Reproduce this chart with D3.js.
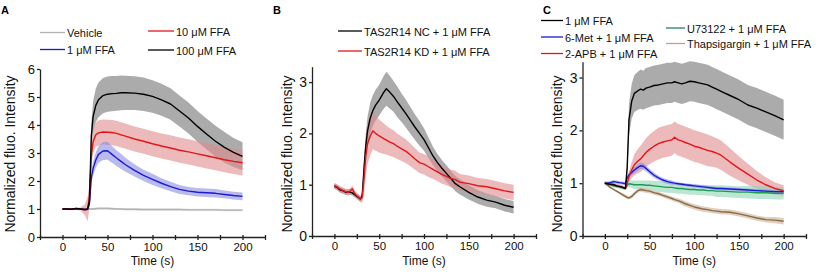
<!DOCTYPE html>
<html>
<head>
<meta charset="utf-8">
<script src="https://cdn.jsdelivr.net/npm/d3@7"></script>
<style>
  body { margin: 0; background: #fff; }
  svg { display: block; font-family: Arial, "Liberation Sans", sans-serif; }
</style>
</head>
<body>
<svg id="fig" width="824" height="276"></svg>
<script>
// ---------- data ----------
// panel A
var timeA = [0, 5, 10, 15, 20, 25, 28, 30, 32, 34, 37, 40, 45, 50, 55, 60, 65, 70, 80, 90, 100, 110, 120, 130, 140, 150, 160, 170, 180, 190, 200];
var ffa100A = [1.0, 1.0, 0.99, 1.02, 1.0, 0.98, 1.0, 1.3, 3.6, 4.3, 4.7, 4.9, 5.05, 5.1, 5.12, 5.13, 5.15, 5.15, 5.14, 5.1, 5.02, 4.9, 4.75, 4.5, 4.25, 3.95, 3.68, 3.42, 3.2, 3.02, 2.88];
var ffa100AErr = [0.03, 0.03, 0.03, 0.03, 0.03, 0.04, 0.05, 0.2, 0.45, 0.55, 0.6, 0.62, 0.63, 0.63, 0.63, 0.62, 0.62, 0.61, 0.6, 0.6, 0.58, 0.57, 0.56, 0.55, 0.55, 0.55, 0.55, 0.55, 0.55, 0.52, 0.5];
var ffa10A = [1.0, 1.0, 1.0, 1.0, 1.0, 0.97, 1.0, 1.5, 2.9, 3.4, 3.65, 3.72, 3.75, 3.74, 3.73, 3.7, 3.65, 3.6, 3.5, 3.42, 3.33, 3.25, 3.18, 3.1, 3.04, 2.97, 2.9, 2.83, 2.76, 2.7, 2.65];
var ffa10AErr = [0.03, 0.03, 0.03, 0.04, 0.05, 0.2, 0.45, 0.4, 0.38, 0.4, 0.43, 0.45, 0.45, 0.45, 0.45, 0.45, 0.45, 0.45, 0.45, 0.45, 0.45, 0.45, 0.45, 0.45, 0.45, 0.45, 0.45, 0.45, 0.45, 0.45, 0.45];
var ffa1A = [1.0, 1.0, 1.0, 1.0, 1.0, 0.98, 1.0, 1.2, 2.1, 2.45, 2.75, 2.95, 3.07, 3.08, 2.95, 2.82, 2.7, 2.58, 2.38, 2.2, 2.06, 1.92, 1.8, 1.7, 1.64, 1.6, 1.58, 1.56, 1.52, 1.48, 1.45];
var ffa1AErr = [0.02, 0.02, 0.02, 0.02, 0.02, 0.03, 0.05, 0.1, 0.2, 0.25, 0.28, 0.3, 0.32, 0.32, 0.3, 0.28, 0.27, 0.25, 0.22, 0.2, 0.2, 0.18, 0.17, 0.16, 0.15, 0.15, 0.15, 0.15, 0.14, 0.14, 0.14];
var vehicleA = [1.0, 1.0, 1.0, 1.0, 1.0, 0.99, 1.0, 1.0, 1.0, 1.0, 1.01, 1.02, 1.02, 1.02, 1.01, 1.0, 1.0, 0.99, 0.99, 0.98, 0.98, 0.98, 0.98, 0.98, 0.97, 0.97, 0.97, 0.97, 0.96, 0.96, 0.96];
var vehicleAErr = [0.03, 0.03, 0.03, 0.03, 0.03, 0.03, 0.03, 0.04, 0.04, 0.04, 0.04, 0.04, 0.04, 0.04, 0.04, 0.04, 0.04, 0.04, 0.04, 0.04, 0.04, 0.04, 0.04, 0.04, 0.04, 0.04, 0.04, 0.04, 0.04, 0.04, 0.04];

// panel B
var timeB = [0, 3, 6, 10, 13, 16, 20, 23, 26, 29, 31, 33, 35, 37, 40, 43, 46, 50, 55, 58, 62, 66, 70, 75, 80, 85, 90, 95, 100, 105, 110, 115, 120, 125, 130, 135, 140, 150, 160, 170, 180, 190, 200];
var ncB = [0.97, 0.95, 0.9, 0.88, 0.85, 0.86, 0.84, 0.8, 0.76, 0.72, 0.78, 1.3, 1.75, 2.05, 2.3, 2.45, 2.55, 2.65, 2.8, 2.87, 2.8, 2.72, 2.62, 2.5, 2.38, 2.25, 2.12, 2.0, 1.88, 1.72, 1.56, 1.43, 1.32, 1.22, 1.12, 1.02, 0.96, 0.85, 0.76, 0.7, 0.66, 0.6, 0.56];
var ncBErr = [0.05, 0.05, 0.05, 0.05, 0.05, 0.05, 0.05, 0.05, 0.05, 0.05, 0.08, 0.2, 0.25, 0.28, 0.3, 0.3, 0.3, 0.3, 0.32, 0.33, 0.32, 0.3, 0.3, 0.28, 0.27, 0.26, 0.25, 0.24, 0.22, 0.2, 0.18, 0.17, 0.16, 0.16, 0.15, 0.15, 0.15, 0.14, 0.13, 0.13, 0.12, 0.12, 0.12];
var kdB = [0.98, 0.95, 0.92, 0.88, 0.86, 0.85, 0.92, 0.82, 0.77, 0.72, 0.75, 1.1, 1.55, 1.8, 1.95, 2.05, 2.0, 1.95, 1.9, 1.87, 1.83, 1.8, 1.75, 1.7, 1.65, 1.58, 1.5, 1.43, 1.4, 1.35, 1.3, 1.25, 1.2, 1.16, 1.12, 1.1, 1.05, 1.02, 0.98, 0.96, 0.92, 0.88, 0.85];
var kdBErr = [0.06, 0.06, 0.06, 0.06, 0.06, 0.06, 0.06, 0.06, 0.06, 0.06, 0.1, 0.3, 0.38, 0.4, 0.38, 0.36, 0.34, 0.32, 0.3, 0.28, 0.27, 0.26, 0.25, 0.24, 0.23, 0.22, 0.21, 0.2, 0.2, 0.2, 0.19, 0.18, 0.18, 0.17, 0.17, 0.17, 0.16, 0.16, 0.15, 0.15, 0.15, 0.15, 0.15];

// panel C
var timeC = [0, 3, 6, 10, 13, 16, 20, 23, 25, 27, 30, 33, 37, 40, 43, 46, 50, 55, 60, 65, 70, 75, 78, 82, 86, 90, 95, 100, 105, 110, 115, 120, 125, 130, 140, 150, 160, 170, 180, 190, 200];
var ffaC = [1.0, 0.99, 0.98, 0.97, 0.95, 0.94, 0.92, 0.9, 1.3, 2.2, 2.55, 2.7, 2.75, 2.78, 2.76, 2.8, 2.82, 2.85, 2.86, 2.88, 2.9, 2.9, 2.92, 2.9, 2.88, 2.9, 2.93, 2.92, 2.9, 2.88, 2.86, 2.82, 2.78, 2.74, 2.66, 2.58, 2.48, 2.42, 2.35, 2.28, 2.2];
var ffaCErr = [0.03, 0.03, 0.03, 0.03, 0.03, 0.03, 0.03, 0.03, 0.1, 0.3, 0.33, 0.35, 0.36, 0.37, 0.37, 0.38, 0.38, 0.38, 0.38, 0.38, 0.38, 0.38, 0.38, 0.38, 0.38, 0.38, 0.38, 0.38, 0.38, 0.38, 0.38, 0.38, 0.38, 0.38, 0.38, 0.38, 0.38, 0.38, 0.38, 0.38, 0.38];
var apbC = [1.0, 0.99, 0.98, 0.97, 0.95, 0.94, 0.92, 0.9, 1.0, 1.12, 1.25, 1.35, 1.42, 1.46, 1.52, 1.58, 1.64, 1.7, 1.75, 1.78, 1.8, 1.82, 1.87, 1.82, 1.8, 1.77, 1.74, 1.7, 1.68, 1.65, 1.62, 1.6, 1.57, 1.53, 1.4, 1.28, 1.17, 1.06, 0.97, 0.9, 0.86];
var apbCErr = [0.03, 0.03, 0.03, 0.03, 0.03, 0.03, 0.03, 0.03, 0.06, 0.1, 0.15, 0.2, 0.23, 0.25, 0.26, 0.27, 0.28, 0.29, 0.3, 0.3, 0.3, 0.3, 0.3, 0.3, 0.3, 0.3, 0.3, 0.3, 0.3, 0.3, 0.3, 0.29, 0.28, 0.28, 0.26, 0.23, 0.2, 0.17, 0.14, 0.12, 0.1];
var metC = [1.0, 1.0, 1.01, 1.03, 1.02, 1.01, 1.0, 0.99, 1.1, 1.16, 1.2, 1.25, 1.3, 1.33, 1.32, 1.28, 1.22, 1.15, 1.1, 1.06, 1.03, 1.01, 1.0, 0.99, 0.98, 0.97, 0.96, 0.95, 0.94, 0.93, 0.92, 0.91, 0.9, 0.9, 0.89, 0.88, 0.87, 0.86, 0.85, 0.84, 0.84];
var metCErr = [0.03, 0.03, 0.03, 0.03, 0.03, 0.03, 0.03, 0.03, 0.04, 0.05, 0.05, 0.06, 0.06, 0.06, 0.06, 0.06, 0.05, 0.05, 0.04, 0.04, 0.04, 0.04, 0.03, 0.03, 0.03, 0.03, 0.03, 0.03, 0.03, 0.03, 0.03, 0.03, 0.03, 0.03, 0.03, 0.03, 0.03, 0.03, 0.03, 0.03, 0.03];
var u73C = [1.0, 0.98, 0.97, 0.95, 0.94, 0.93, 0.91, 0.9, 0.96, 0.99, 0.98, 0.97, 0.97, 0.97, 0.97, 0.96, 0.96, 0.95, 0.94, 0.93, 0.92, 0.92, 0.91, 0.9, 0.9, 0.89, 0.88, 0.88, 0.87, 0.87, 0.86, 0.86, 0.85, 0.85, 0.84, 0.83, 0.83, 0.82, 0.82, 0.81, 0.81];
var u73CErr = [0.03, 0.03, 0.03, 0.03, 0.03, 0.03, 0.03, 0.03, 0.05, 0.06, 0.07, 0.08, 0.08, 0.08, 0.08, 0.09, 0.09, 0.09, 0.1, 0.1, 0.1, 0.1, 0.1, 0.1, 0.1, 0.1, 0.1, 0.1, 0.1, 0.1, 0.1, 0.1, 0.11, 0.11, 0.11, 0.11, 0.12, 0.12, 0.12, 0.12, 0.12];
var thapC = [1.0, 0.96, 0.92, 0.88, 0.85, 0.82, 0.78, 0.75, 0.73, 0.72, 0.75, 0.8, 0.86, 0.88, 0.87, 0.86, 0.85, 0.82, 0.8, 0.77, 0.74, 0.71, 0.69, 0.67, 0.64, 0.61, 0.58, 0.55, 0.53, 0.51, 0.5, 0.48, 0.47, 0.46, 0.45, 0.42, 0.38, 0.34, 0.31, 0.3, 0.28];
var thapCErr = [0.02, 0.02, 0.02, 0.02, 0.02, 0.02, 0.03, 0.03, 0.03, 0.03, 0.04, 0.04, 0.04, 0.04, 0.04, 0.04, 0.04, 0.04, 0.04, 0.04, 0.04, 0.04, 0.04, 0.04, 0.05, 0.05, 0.05, 0.05, 0.05, 0.05, 0.05, 0.05, 0.05, 0.05, 0.05, 0.05, 0.05, 0.05, 0.05, 0.06, 0.06];

var xTicks = [-25, 0, 25, 50, 75, 100, 125, 150, 175, 200, 225];
var yTicksA = [0, 1, 2, 3, 4, 5, 6];
var yTicksBC = [0, 1, 2, 3];

// ---------- drawing ----------
const svg = d3.select('#fig');

const panels = [
    {
        label: 'A', lx: 1, left: 40, right: 265, top: 69, bottom: 237, yMax: 6, yTicks: yTicksA, yFont: 13, titleX: 14.5,
        time: timeA,
        series: [
            { v: ffa100A, e: ffa100AErr, line: '#000', band: '#8f8f8f', op: 0.75 },
            { v: ffa10A, e: ffa10AErr, line: '#e3151b', band: '#e08c8c', op: 0.6 },
            { v: ffa1A, e: ffa1AErr, line: '#1a1ad6', band: '#8c8ce0', op: 0.6 },
            { v: vehicleA, e: vehicleAErr, line: '#b3b3b3', band: '#d6d6d6', op: 0.8 }
        ],
        lineOrder: [3, 2, 1, 0],
        legend: [
            { name: 'Vehicle', color: '#b3b3b3', x1: 40, x2: 65, y: 32.5 },
            { name: '1 μM FFA', color: '#1a1ad6', x1: 40, x2: 65, y: 49.5 },
            { name: '10 μM FFA', color: '#e3151b', x1: 148, x2: 174, y: 31 },
            { name: '100 μM FFA', color: '#000', x1: 148, x2: 174, y: 50 }
        ]
    },
    {
        label: 'B', lx: 273, left: 312, right: 536, top: 66.7, bottom: 236, yMax: 3.3, yTicks: yTicksBC, yFont: 14, titleX: 291.5,
        time: timeB,
        series: [
            { v: ncB, e: ncBErr, line: '#000', band: '#8f8f8f', op: 0.75 },
            { v: kdB, e: kdBErr, line: '#e3151b', band: '#e08c8c', op: 0.6 }
        ],
        lineOrder: [0, 1],
        legend: [
            { name: 'TAS2R14 NC + 1 μM FFA', color: '#000', x1: 338, x2: 362, y: 31 },
            { name: 'TAS2R14 KD + 1 μM FFA', color: '#e3151b', x1: 338, x2: 362, y: 51 }
        ]
    },
    {
        label: 'C', lx: 543, left: 582.5, right: 806, top: 61.7, bottom: 236, yMax: 3.3, yTicks: yTicksBC, yFont: 14, titleX: 561.5,
        time: timeC,
        series: [
            { v: ffaC, e: ffaCErr, line: '#000', band: '#8f8f8f', op: 0.75 },
            { v: apbC, e: apbCErr, line: '#e3151b', band: '#e08c8c', op: 0.6 },
            { v: u73C, e: u73CErr, line: '#1f9a52', band: '#8cd6b4', op: 0.6 },
            { v: metC, e: metCErr, line: '#1a1ad6', band: '#8c8ce0', op: 0.6 },
            { v: thapC, e: thapCErr, line: '#8b6a48', band: '#d2bb9f', op: 0.7 }
        ],
        lineOrder: [4, 2, 3, 1, 0],
        legend: [
            { name: '1 μM FFA', color: '#000', x1: 541, x2: 563, y: 20.5 },
            { name: '6-Met + 1 μM FFA', color: '#1a1ad6', x1: 541, x2: 563, y: 37 },
            { name: '2-APB + 1 μM FFA', color: '#e3151b', x1: 541, x2: 563, y: 53.5 },
            { name: 'U73122 + 1 μM FFA', color: '#2e7d6b', x1: 666, x2: 685, y: 28 },
            { name: 'Thapsigargin + 1 μM FFA', color: '#c9a27c', x1: 666, x2: 685, y: 43.5 }
        ]
    }
];

function drawPanel(p) {
    const x = d3.scaleLinear().domain([-25, 225]).range([p.left, p.right]);
    const y = d3.scaleLinear().domain([0, p.yMax]).range([p.bottom, p.top]);
    const g = svg.append('g');

    const toPts = s => s.v.map((v, i) => ({ t: p.time[i], v: v, e: s.e[i] }));

    // error bands first
    p.series.forEach(s => {
        g.append('path')
            .datum(toPts(s))
            .attr('d', d3.area()
                .x(d => x(d.t))
                .y0(d => y(d.v - d.e))
                .y1(d => y(d.v + d.e)))
            .attr('fill', s.band)
            .attr('opacity', s.op);
    });

    // mean lines on top
    p.lineOrder.forEach(k => {
        const s = p.series[k];
        g.append('path')
            .datum(toPts(s))
            .attr('d', d3.line().x(d => x(d.t)).y(d => y(d.v)))
            .attr('fill', 'none')
            .attr('stroke', s.line)
            .attr('stroke-width', 1.4)
            .attr('stroke-linejoin', 'round');
    });

    // x axis
    const xa = g.append('g')
        .attr('transform', `translate(0,${p.bottom})`)
        .call(d3.axisBottom(x).tickValues(xTicks).tickSize(3).tickSizeOuter(0).tickPadding(3)
            .tickFormat(d => d % 50 === 0 ? d : ''));
    xa.selectAll('.tick line').attr('y1', -2);
    xa.selectAll('text').style('font-size', '11.5px').attr('fill', '#111');

    // y axis
    const ya = g.append('g')
        .attr('transform', `translate(${p.left},0)`)
        .call(d3.axisLeft(y).tickValues(p.yTicks).tickSize(3).tickSizeOuter(0).tickPadding(2)
            .tickFormat(d3.format('d')));
    ya.selectAll('text').style('font-size', p.yFont + 'px').attr('fill', '#111');

    g.selectAll('.domain, .tick line').attr('stroke', '#222').attr('stroke-width', 1.3);

    // axis titles
    g.append('text')
        .attr('transform', `translate(${p.titleX},154) rotate(-90)`)
        .attr('text-anchor', 'middle')
        .style('font-size', '14px')
        .attr('fill', '#111')
        .text('Normalized fluo. Intensity');
    g.append('text')
        .attr('x', x(100))
        .attr('y', 265)
        .attr('text-anchor', 'middle')
        .style('font-size', '12px')
        .attr('fill', '#111')
        .text('Time (s)');

    // panel letter
    g.append('text')
        .attr('x', p.lx)
        .attr('y', 13.5)
        .style('font-size', '11px')
        .style('font-weight', 'bold')
        .text(p.label);

    // legend
    p.legend.forEach(l => {
        g.append('line')
            .attr('x1', l.x1).attr('x2', l.x2)
            .attr('y1', l.y).attr('y2', l.y)
            .attr('stroke', l.color)
            .attr('stroke-width', 1.3);
        g.append('text')
            .attr('x', l.x2 + 2)
            .attr('y', l.y + 1)
            .attr('dy', '0.35em')
            .style('font-size', '11px')
            .attr('fill', '#111')
            .text(l.name);
    });
}

panels.forEach(drawPanel);
</script>
</body>
</html>
